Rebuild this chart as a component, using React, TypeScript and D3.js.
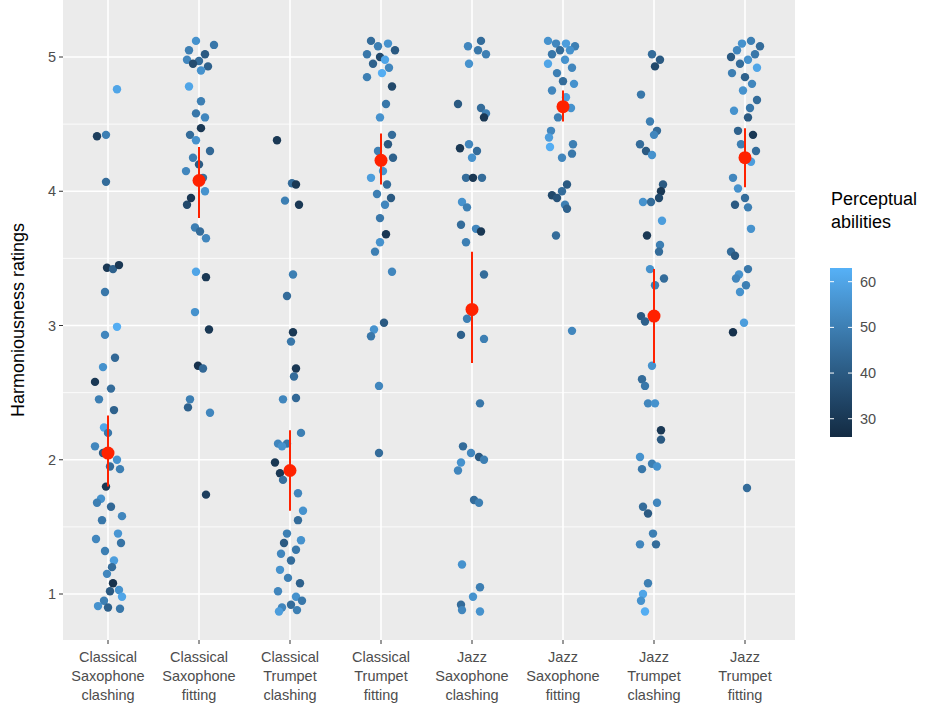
import * as d3 from 'd3'
import { useEffect } from 'react'

const categories = [
  'Classical\nSaxophone\nclashing', 'Classical\nSaxophone\nfitting', 'Classical\nTrumpet\nclashing', 'Classical\nTrumpet\nfitting',
  'Jazz\nSaxophone\nclashing', 'Jazz\nSaxophone\nfitting', 'Jazz\nTrumpet\nclashing', 'Jazz\nTrumpet\nfitting',
]

// [rating, jitter offset (1/91 of a category step), perceptual ability]
const c1 = [[4.41,-11,32],[4.42,-2,50],[4.76,9,60],[4.07,-2,45],[3.43,-1,30],[3.42,5,42],[3.45,11,30],[3.25,-3,48],[2.99,9,62],[2.93,-3,52],[2.76,7,44],[2.69,-5,55],[2.58,-13,30],[2.53,3,45],[2.45,-9,50],[2.37,6,42],[2.24,-4,60],[2.2,0,48],[2.1,-13,52],[2.05,-5,40],[2,9,55],[1.93,12,50],[1.95,2,45],[1.8,-2,30],[1.71,-7,55],[1.68,-11,50],[1.65,3,44],[1.58,14,52],[1.55,-6,48],[1.45,10,56],[1.41,-12,52],[1.38,13,47],[1.32,-3,50],[1.25,6,58],[1.2,4,45],[1.15,-1,52],[1.08,5,28],[1.03,11,55],[0.98,14,60],[0.95,-4,50],[0.9,0,42],[0.89,12,48],[0.91,-10,55],[1.02,2,40]]
const c2 = [[5.12,-3,55],[5.09,15,48],[5.05,-10,50],[5.02,6,40],[4.98,-12,52],[4.97,0,45],[4.95,-6,36],[4.93,9,42],[4.9,2,55],[4.78,-10,60],[4.67,2,50],[4.58,-3,48],[4.55,6,52],[4.47,2,30],[4.42,-9,45],[4.38,-3,55],[4.3,11,44],[4.25,-6,50],[4.2,0,40],[4.15,-13,52],[4.1,4,46],[4,6,55],[3.9,-12,35],[3.95,-8,30],[3.73,-4,50],[3.7,1,45],[3.65,7,52],[3.4,-3,60],[3.36,7,30],[3.1,-4,55],[2.97,10,30],[2.7,-1,28],[2.68,4,44],[2.45,-9,50],[2.39,-11,42],[2.35,11,52],[1.74,7,32]]
const c3 = [[4.38,-13,30],[4.06,2,45],[4.05,6,30],[3.93,-5,50],[3.9,9,30],[3.38,3,50],[3.22,-3,45],[2.95,3,30],[2.88,1,48],[2.68,6,30],[2.62,4,45],[2.45,-7,52],[2.46,6,44],[2.2,11,50],[2.12,-12,52],[2.12,-3,48],[2.1,-8,55],[1.98,-15,30],[1.9,-10,30],[1.85,-7,46],[1.75,8,52],[1.62,13,55],[1.55,8,45],[1.45,-3,50],[1.38,-6,40],[1.4,11,55],[1.33,6,48],[1.3,-9,52],[1.25,1,45],[1.18,-10,55],[1.12,-2,50],[1.08,10,42],[1.02,-12,52],[0.98,6,55],[0.95,12,48],[0.92,1,45],[0.9,-8,52],[0.88,7,50],[0.87,-11,58]]
const c4 = [[5.12,-10,45],[5.1,7,55],[5.08,-3,50],[5.05,14,40],[5.02,-14,48],[5,-1,35],[4.98,4,60],[4.95,-8,42],[4.92,8,52],[4.88,1,62],[4.85,-14,50],[4.78,11,35],[4.65,5,48],[4.55,-1,55],[4.42,11,45],[4.35,7,40],[4.3,-3,50],[4.25,12,42],[4.15,2,55],[4.1,-10,58],[4.05,6,45],[3.98,-4,50],[3.95,10,40],[3.9,4,52],[3.8,-1,48],[3.68,5,30],[3.62,-1,55],[3.55,-6,50],[3.4,11,52],[3.02,3,40],[2.97,-7,55],[2.92,-10,48],[2.55,-2,52],[2.05,-2,45]]
const c5 = [[5.12,9,45],[5.08,-4,52],[5.05,6,48],[5.02,14,50],[4.95,-3,55],[4.65,-14,40],[4.62,9,45],[4.58,14,50],[4.55,12,30],[4.35,-3,52],[4.32,-12,30],[4.3,5,45],[4.25,0,55],[4.1,-6,45],[4.1,1,30],[4.1,10,45],[3.92,-10,55],[3.88,-5,50],[3.75,-11,45],[3.72,4,52],[3.7,9,30],[3.62,-6,50],[3.38,12,45],[3.1,0,55],[3.05,-5,50],[2.93,-11,42],[2.9,12,50],[2.42,8,48],[2.1,-9,45],[2.05,-1,52],[2.02,7,40],[2,12,50],[1.98,-11,55],[1.92,-14,52],[1.7,2,45],[1.68,7,50],[1.22,-10,55],[1.05,8,50],[0.98,1,55],[0.92,-11,45],[0.88,-10,52],[0.87,8,55]]
const c6 = [[5.12,-15,55],[5.1,-7,52],[5.1,3,58],[5.08,12,50],[5.05,-3,45],[5.05,7,55],[5.02,-11,48],[4.98,2,55],[4.95,-15,60],[4.92,9,52],[4.88,-6,50],[4.82,0,45],[4.8,11,55],[4.75,-11,52],[4.7,3,58],[4.62,8,55],[4.55,-5,50],[4.45,-12,52],[4.4,-14,58],[4.35,10,50],[4.33,-13,62],[4.28,9,48],[4.25,-1,52],[4.05,4,40],[4,-1,45],[3.97,-11,35],[3.95,-6,38],[3.9,2,50],[3.87,4,42],[3.67,-7,45],[2.96,9,52]]
const c7 = [[5.02,-2,45],[4.98,6,40],[4.93,1,35],[4.72,-13,48],[4.52,-4,50],[4.45,3,45],[4.42,0,52],[4.35,-14,45],[4.3,-8,40],[4.27,-2,55],[4.05,9,40],[4,7,30],[3.95,5,35],[3.92,-11,55],[3.92,-3,45],[3.78,8,58],[3.67,-7,30],[3.6,6,50],[3.55,5,45],[3.42,-4,55],[3.35,10,45],[3.3,1,50],[3.07,-13,40],[3.03,-9,42],[2.7,-2,55],[2.6,-12,45],[2.55,-9,48],[2.42,-6,52],[2.42,1,55],[2.22,7,30],[2.15,7,40],[2.02,-14,55],[1.97,-2,50],[1.95,3,55],[1.93,-12,48],[1.68,3,52],[1.65,-11,45],[1.6,-6,40],[1.45,-1,50],[1.37,-14,52],[1.37,2,45],[1.08,-6,50],[1,-11,60],[0.95,-13,55],[0.87,-9,62]]
const c8 = [[5.12,6,50],[5.1,-3,55],[5.08,15,45],[5.05,-8,52],[5.02,10,48],[5,-14,40],[4.98,3,55],[4.95,-5,45],[4.92,12,60],[4.88,-13,50],[4.85,0,42],[4.8,7,52],[4.75,-2,55],[4.68,12,45],[4.62,5,48],[4.6,-11,55],[4.55,3,40],[4.45,-7,42],[4.42,8,30],[4.35,-4,50],[4.3,11,45],[4.22,6,58],[4.1,-12,52],[4.02,-7,55],[3.95,0,45],[3.9,-10,40],[3.88,3,50],[3.72,6,55],[3.55,-14,45],[3.52,-10,40],[3.42,3,48],[3.38,-6,55],[3.35,-9,52],[3.3,1,50],[3.25,-5,55],[3.02,-1,58],[2.95,-12,28],[1.79,2,45]]
const pointSets = [c1, c2, c3, c4, c5, c6, c7, c8]

const means = [2.05, 4.08, 1.92, 4.23, 3.12, 4.63, 3.07, 4.25]
const lows = [1.8, 3.8, 1.62, 4.05, 2.72, 4.52, 2.72, 4.03]
const highs = [2.33, 4.33, 2.22, 4.43, 3.55, 4.75, 3.42, 4.47]

const yTicks = [1, 2, 3, 4, 5]
const yMinor = [1.5, 2.5, 3.5, 4.5]
const legendTicks = [30, 40, 50, 60]

function App() {
  useEffect(() => { document.body.style.margin = '0' }, [])
  const pl = 63, pr = 795, pt = 0, pb = 640
  const x = d3.scalePoint<string>().domain(categories).range([108, 745])
  const step = x.step()
  const y = d3.scaleLinear().domain([1, 5]).range([594, 57])
  const col = d3.scaleLinear<string>().domain([26, 63]).range(['#132B43', '#56B1F7']).interpolate(d3.interpolateLab)
  const lg = d3.scaleLinear().domain([26, 63]).range([437, 268])
  const grad = d3.range(0, 1.01, 0.1)
  const txt = '#4d4d4d'
  return (
    <svg width={945} height={718} style={{ display: 'block', fontFamily: 'Liberation Sans, Arial, sans-serif' }}>
      <rect x={pl} y={pt} width={pr - pl} height={pb - pt} fill="#EBEBEB" />
      {yMinor.map(t => <line key={t} x1={pl} x2={pr} y1={y(t)} y2={y(t)} stroke="#fff" strokeWidth={0.8} />)}
      {yTicks.map(t => <line key={t} x1={pl} x2={pr} y1={y(t)} y2={y(t)} stroke="#fff" strokeWidth={1.6} />)}
      {categories.map(c => <line key={c} x1={x(c)} x2={x(c)} y1={pt} y2={pb} stroke="#fff" strokeWidth={1.6} />)}
      {pointSets.map((pts, i) => pts.map((p, j) => (
        <circle key={i + '-' + j} cx={x(categories[i])! + (p[1] / 91) * step} cy={y(p[0])} r={4.2} fill={col(p[2])} />
      )))}
      {categories.map((c, i) => (
        <g key={c}>
          <line x1={x(c)} x2={x(c)} y1={y(lows[i])} y2={y(highs[i])} stroke="#FF2200" strokeWidth={2} />
          <circle cx={x(c)} cy={y(means[i])} r={6.5} fill="#FF2200" />
        </g>
      ))}
      {yTicks.map(t => (
        <g key={t}>
          <line x1={pl - 4} x2={pl} y1={y(t)} y2={y(t)} stroke="#333" />
          <text x={pl - 7} y={y(t)} dy="0.35em" textAnchor="end" fontSize={14.5} fill={txt}>{t}</text>
        </g>
      ))}
      {categories.map(c => (
        <g key={c}>
          <line x1={x(c)} x2={x(c)} y1={pb} y2={pb + 4} stroke="#333" />
          {c.split('\n').map((s, k) => (
            <text key={k} x={x(c)} y={662 + k * 19} textAnchor="middle" fontSize={14.5} fill={txt}>{s}</text>
          ))}
        </g>
      ))}
      <text transform="translate(24,320) rotate(-90)" textAnchor="middle" fontSize={18} fill="#000">Harmoniousness ratings</text>
      <text x={831} y={205} fontSize={18}>Perceptual</text>
      <text x={831} y={228} fontSize={18}> abilities</text>
      <defs>
        <linearGradient id="cb" x1="0" y1="1" x2="0" y2="0">
          {grad.map(g => <stop key={g} offset={g} stopColor={col(26 + g * 37)} />)}
        </linearGradient>
      </defs>
      <rect x={830} y={268} width={22} height={169} fill="url(#cb)" />
      {legendTicks.map(t => (
        <g key={t}>
          <line x1={830} x2={834} y1={lg(t)} y2={lg(t)} stroke="#fff" />
          <line x1={848} x2={852} y1={lg(t)} y2={lg(t)} stroke="#fff" />
          <text x={860} y={lg(t)} dy="0.35em" fontSize={14.5} fill={txt}>{t}</text>
        </g>
      ))}
    </svg>
  )
}

export default App
